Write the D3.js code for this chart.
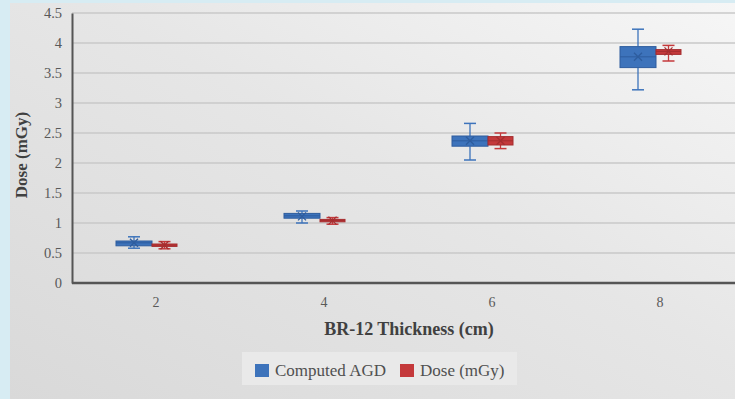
<!DOCTYPE html>
<html>
<head>
<meta charset="utf-8">
<script src="https://cdn.jsdelivr.net/npm/d3@7"></script>
<style>
  html, body { margin: 0; padding: 0; background: #d7ecf3; }
  svg { display: block; }
</style>
</head>
<body>
<svg id="chart" width="735" height="399"></svg>
<script>
// BR-12 thickness groups
const categories = ["2", "4", "6", "8"];
const yTicks = [0, 0.5, 1, 1.5, 2, 2.5, 3, 3.5, 4, 4.5];

// Computed AGD box statistics (mGy)
const agdMin    = [0.58, 1.00, 2.05, 3.22];
const agdQ1     = [0.62, 1.08, 2.28, 3.59];
const agdMedian = [0.67, 1.12, 2.37, 3.77];
const agdQ3     = [0.70, 1.16, 2.45, 3.94];
const agdMax    = [0.77, 1.20, 2.66, 4.23];
const agdMean   = [0.67, 1.11, 2.37, 3.77];

// Measured dose box statistics (mGy)
const doseMin    = [0.57, 0.98, 2.24, 3.70];
const doseQ1     = [0.61, 1.02, 2.30, 3.81];
const doseMedian = [0.63, 1.04, 2.37, 3.86];
const doseQ3     = [0.65, 1.06, 2.44, 3.89];
const doseMax    = [0.69, 1.09, 2.50, 3.96];
const doseMean   = [0.63, 1.04, 2.37, 3.86];

const svg = d3.select("#chart");
const W = 735, H = 399;
const serif = "'Liberation Serif', 'Times New Roman', serif";

// chart panel background with soft gradient
const defs = svg.append("defs");
const grad = defs.append("linearGradient").attr("id", "bg")
  .attr("x1", "0%").attr("y1", "100%").attr("x2", "100%").attr("y2", "0%");
grad.append("stop").attr("offset", "0%").attr("stop-color", "#d9d9d9");
grad.append("stop").attr("offset", "55%").attr("stop-color", "#e6e6e6");
grad.append("stop").attr("offset", "100%").attr("stop-color", "#f6f6f6");
svg.append("rect").attr("x", 10).attr("y", 3).attr("width", W - 10).attr("height", H - 3)
  .attr("fill", "url(#bg)");

const plotLeft = 72, plotTop = 13, plotBottom = 283;
const plotRight = plotLeft + 4 * 168;

const x = d3.scaleBand().domain(categories).range([plotLeft, plotRight]);
const y = d3.scaleLinear().domain([0, 4.5]).range([plotBottom, plotTop]);

// gridlines
svg.append("g").selectAll("line").data(yTicks.filter(t => t > 0)).join("line")
  .attr("x1", plotLeft).attr("x2", W)
  .attr("y1", d => y(d)).attr("y2", d => y(d))
  .attr("stroke", "#c9c9c9").attr("stroke-width", 1.5);

// y axis
const yAxis = svg.append("g").attr("transform", `translate(${plotLeft},0)`)
  .call(d3.axisLeft(y).tickValues(yTicks).tickSize(0).tickPadding(10)
    .tickFormat(d => String(d)));
yAxis.select(".domain").attr("stroke", "#555").attr("stroke-width", 2);
yAxis.selectAll("text").attr("font-family", serif).attr("font-size", 14.5).attr("fill", "#595959");

// x axis
const xAxis = svg.append("g").attr("transform", `translate(0,${plotBottom})`)
  .call(d3.axisBottom(x).tickSize(0).tickPadding(14));
xAxis.select(".domain").attr("stroke", "#555").attr("stroke-width", 2.5)
  .attr("d", `M${plotLeft},0H${W + 5}`);
xAxis.selectAll("text").attr("font-family", serif).attr("font-size", 14).attr("fill", "#595959");

// series setup
const series = [
  { name: "Computed AGD", fill: "#3d73bb", stroke: "#2e5d9e", off0: -40, off1: -4,
    min: agdMin, q1: agdQ1, med: agdMedian, q3: agdQ3, max: agdMax, mean: agdMean },
  { name: "Dose (mGy)", fill: "#c4393b", stroke: "#a52d2f", off0: -4, off1: 21,
    min: doseMin, q1: doseQ1, med: doseMedian, q3: doseQ3, max: doseMax, mean: doseMean }
];

series.forEach(s => {
  const g = svg.append("g");
  categories.forEach((c, i) => {
    const cx = x(c) + x.bandwidth() / 2;
    const x0 = cx + s.off0, x1 = cx + s.off1, xm = (x0 + x1) / 2;
    const cap = 6;
    // whiskers
    g.append("line").attr("x1", xm).attr("x2", xm)
      .attr("y1", y(s.max[i])).attr("y2", y(s.q3[i]))
      .attr("stroke", s.fill).attr("stroke-width", 1.3);
    g.append("line").attr("x1", xm).attr("x2", xm)
      .attr("y1", y(s.q1[i])).attr("y2", y(s.min[i]))
      .attr("stroke", s.fill).attr("stroke-width", 1.3);
    [s.max[i], s.min[i]].forEach(v => {
      g.append("line").attr("x1", xm - cap).attr("x2", xm + cap)
        .attr("y1", y(v)).attr("y2", y(v))
        .attr("stroke", s.fill).attr("stroke-width", 1.5);
    });
    // box
    g.append("rect").attr("x", x0).attr("y", y(s.q3[i]))
      .attr("width", x1 - x0).attr("height", Math.max(1, y(s.q1[i]) - y(s.q3[i])))
      .attr("fill", s.fill).attr("stroke", s.stroke).attr("stroke-width", 1);
    // median
    g.append("line").attr("x1", x0).attr("x2", x1)
      .attr("y1", y(s.med[i])).attr("y2", y(s.med[i]))
      .attr("stroke", s.stroke).attr("stroke-width", 1);
    // mean marker
    const m = 4, ym = y(s.mean[i]);
    g.append("path")
      .attr("d", `M${xm - m},${ym - m}L${xm + m},${ym + m}M${xm - m},${ym + m}L${xm + m},${ym - m}`)
      .attr("stroke", s.stroke).attr("stroke-width", 1.3).attr("fill", "none");
  });
});

// axis titles
svg.append("text").attr("transform", "translate(27,155) rotate(-90)")
  .attr("text-anchor", "middle").attr("font-family", serif).attr("font-weight", "bold")
  .attr("font-size", 17).attr("fill", "#404040").text("Dose (mGy)");
svg.append("text").attr("x", 409).attr("y", 335)
  .attr("text-anchor", "middle").attr("font-family", serif).attr("font-weight", "bold")
  .attr("font-size", 18).attr("fill", "#404040").text("BR-12 Thickness (cm)");

// legend
const lg = svg.append("g");
lg.append("rect").attr("x", 242).attr("y", 352).attr("width", 275).attr("height", 33)
  .attr("fill", "#e9e9e9");
const legendItems = [
  { label: series[0].name, color: series[0].fill, x: 255 },
  { label: series[1].name, color: series[1].fill, x: 400 }
];
legendItems.forEach(d => {
  lg.append("rect").attr("x", d.x).attr("y", 364).attr("width", 14).attr("height", 13)
    .attr("fill", d.color);
  lg.append("text").attr("x", d.x + 20).attr("y", 376)
    .attr("font-family", serif).attr("font-size", 17).attr("fill", "#505050").text(d.label);
});
</script>
</body>
</html>
